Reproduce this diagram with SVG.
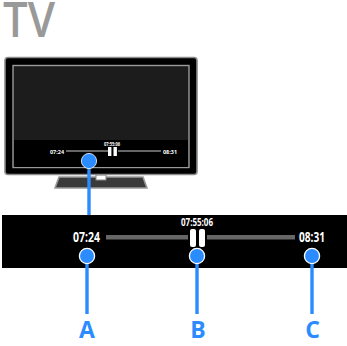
<svg xmlns="http://www.w3.org/2000/svg" width="347" height="346" viewBox="0 0 347 346">
<style>
text{font-family:"Open Sans","Liberation Sans",sans-serif}
.t{fill:#fff;font-weight:700;text-anchor:middle}
.l{fill:#2a8cff;font-weight:700;font-size:23px;text-anchor:middle}
.c{stroke:#2a8cff;stroke-width:3.4;fill:none}
.d{fill:#2a8cff;stroke:#fff;stroke-width:1.3}
</style>
<rect width="347" height="346" fill="#fff"/>
<g id="title"><text x="3" y="37" font-size="49" font-weight="600" fill="#999" textLength="52" lengthAdjust="spacingAndGlyphs">TV</text></g>
<g id="tv">
<path d="M59 177H143L147 188H55Z" fill="#3a3a3a" stroke="#9a9a9a" stroke-width="1.6"/>
<rect x="96" y="175" width="10" height="5" fill="#fff" stroke="#888"/>
<rect x="5" y="57.500" width="192" height="117" rx="3" fill="#000" stroke="#8a8a8a" stroke-width="1.6"/>
<rect x="13" y="65.500" width="176" height="102" fill="#1c1c1c" stroke="#9a9a9a" stroke-width="1.4"/>
<rect x="14" y="140" width="174" height="27" fill="#000"/>
<rect x="66" y="150" width="42" height="2" fill="#666"/>
<rect x="118" y="150" width="43" height="2" fill="#666"/>
<rect x="108" y="147" width="3.4" height="9" fill="#fff"/>
<rect x="113.500" y="147" width="3.4" height="9" fill="#fff"/>
<text class="t" x="57" y="154" font-size="6" textLength="14" lengthAdjust="spacingAndGlyphs">07:24</text>
<text class="t" x="112" y="146" font-size="5" textLength="16" lengthAdjust="spacingAndGlyphs">07:55:06</text>
<text class="t" x="170" y="154" font-size="6" textLength="14" lengthAdjust="spacingAndGlyphs">08:31</text>
</g>
<g id="bar">
<rect x="2" y="215" width="345" height="53" fill="#000"/>
<rect x="106" y="235" width="82" height="4.500" fill="#666"/>
<rect x="207" y="235" width="88" height="4.500" fill="#666"/>
<rect x="190" y="229" width="6" height="18" rx="2" fill="#fff"/>
<rect x="199" y="229" width="6" height="18" rx="2" fill="#fff"/>
<text class="t" x="86.500" y="242" font-size="14" textLength="27" lengthAdjust="spacingAndGlyphs">07:24</text>
<text class="t" x="197" y="226" font-size="10" textLength="32" lengthAdjust="spacingAndGlyphs">07:55:06</text>
<text class="t" x="312" y="242" font-size="14" textLength="26" lengthAdjust="spacingAndGlyphs">08:31</text>
</g>
<g id="connectors">
<line class="c" x1="89" y1="160" x2="89" y2="215"/>
<line class="c" x1="87" y1="256" x2="87" y2="314"/>
<line class="c" x1="197" y1="256" x2="197" y2="314"/>
<line class="c" x1="312" y1="256" x2="312" y2="314"/>
</g>
<g id="dot-tv"><circle cx="89" cy="161" r="7.6" fill="#2a8cff" stroke="#fff" stroke-width="0.8"/></g>
<g id="node-a"><circle class="d" cx="87" cy="256" r="7.6"/><text class="l" x="87" y="338">A</text></g>
<g id="node-b"><circle class="d" cx="197" cy="256" r="7.6"/><text class="l" x="198" y="338">B</text></g>
<g id="node-c"><circle class="d" cx="312" cy="256" r="7.6"/><text class="l" x="312.500" y="338">C</text></g>
</svg>
